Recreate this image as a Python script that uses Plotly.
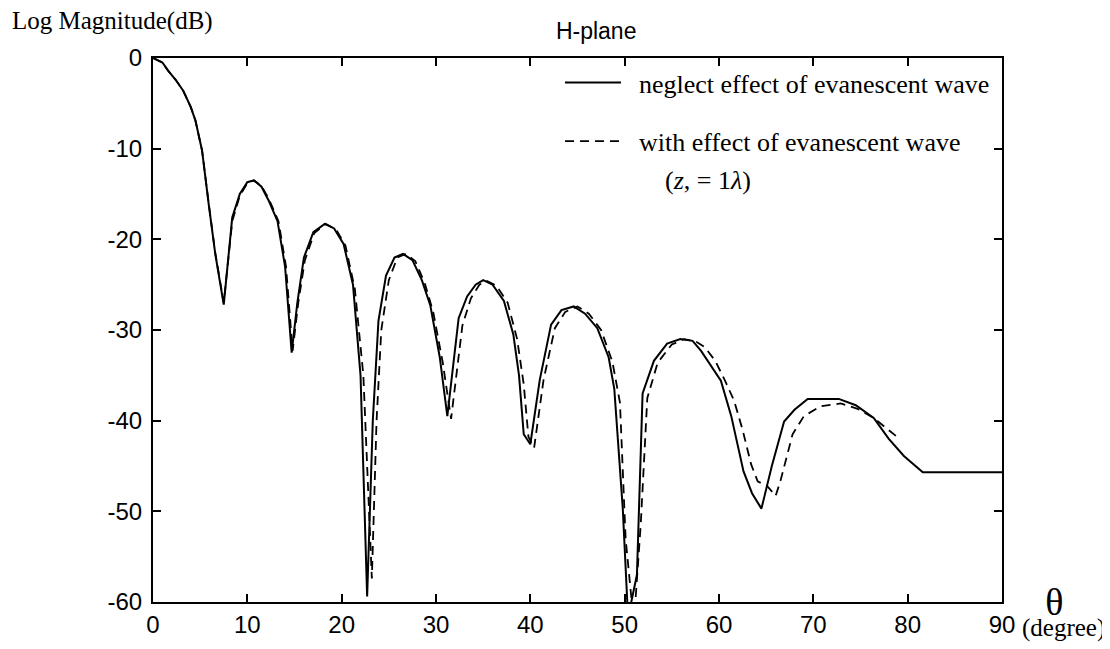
import plotly.graph_objects as go

# Solid: neglect effect of evanescent wave
theta_solid = [0, 1.0, 1.6, 2.4, 3.2, 4.0, 4.5, 5.2, 5.9, 6.6, 7.5, 8.0, 8.4, 9.2, 10.0, 10.7, 11.5,
               12.3, 13.2, 14.0, 14.7, 15.3, 16.0, 17.0, 18.2, 19.2, 20.2, 21.2, 22.0, 22.7, 23.3,
               23.9, 24.7, 25.6, 26.5, 27.5, 28.5, 29.4, 30.4, 31.2, 32.4, 33.3, 34.2, 35.0, 36.0,
               37.2, 38.2, 38.8, 39.3, 40.0, 41.0, 42.2, 43.3, 44.6, 45.8, 47.1, 48.3, 48.9, 49.5,
               49.8, 50.3, 50.6, 51.3, 51.9, 53.1, 54.5, 55.9, 57.2, 58.1, 59.2, 60.2, 61.3, 62.6,
               63.5, 64.5, 65.6, 66.9, 68.0, 69.4, 71.0, 72.7, 74.5, 76.4, 78.0, 79.6, 81.6, 90.0]
mag_solid = [0, -0.5, -1.4, -2.4, -3.6, -5.4, -6.9, -10.2, -16.1, -21.6, -27.2, -22.0, -17.6, -15.0,
             -13.7, -13.5, -14.2, -15.8, -18.0, -23.0, -32.5, -27.0, -22.0, -19.2, -18.3, -18.8,
             -20.5, -25.0, -35.0, -59.4, -40.0, -29.0, -24.0, -22.0, -21.6, -22.3, -24.5, -27.3,
             -33.0, -39.5, -28.7, -26.3, -25.0, -24.5, -25.0, -26.8, -30.5, -35.0, -41.5, -42.6,
             -35.5, -29.4, -27.8, -27.4, -28.2, -29.8, -33.0, -36.5, -45.0, -49.7, -60.5, -60.5,
             -57.0, -37.0, -33.4, -31.5, -31.0, -31.2, -32.3, -34.0, -35.6, -39.5, -45.6, -48.0,
             -49.7, -45.0, -40.1, -38.8, -37.6, -37.6, -37.6, -38.3, -39.7, -42.0, -43.9, -45.7,
             -45.7]

# Dashed: with effect of evanescent wave
theta_dash = [0, 1.0, 1.6, 2.4, 3.2, 4.0, 4.5, 5.2, 5.9, 6.6, 7.5, 8.4, 9.2, 10.0, 10.7, 11.5, 12.3,
              13.3, 14.1, 14.8, 15.4, 16.1, 17.1, 18.3, 19.4, 20.4, 21.4, 22.3, 23.2, 23.7, 24.2,
              25.0, 25.9, 26.8, 27.8, 28.8, 29.7, 30.7, 31.6, 32.8, 33.7, 34.6, 35.4, 36.4, 37.6,
              38.6, 39.3, 39.8, 40.4, 41.4, 42.6, 43.7, 45.0, 46.2, 47.5, 48.7, 49.5, 50.1, 50.8,
              51.1, 51.7, 52.4, 53.5, 55.0, 56.3, 57.6, 58.5, 59.6, 60.6, 61.6, 62.5, 63.4, 64.1,
              65.1, 66.0, 66.5, 67.8, 69.0, 70.8, 72.9, 74.7, 76.4, 78.9]
mag_dash = [0, -0.5, -1.4, -2.4, -3.6, -5.4, -6.9, -10.2, -16.0, -21.5, -27.0, -18.0, -15.2, -13.8,
            -13.5, -14.1, -15.6, -18.0, -23.0, -32.3, -27.0, -22.3, -19.3, -18.3, -18.9, -20.7,
            -25.5, -35.0, -57.4, -40.0, -30.0, -24.5, -22.0, -21.6, -22.4, -24.8, -28.0, -33.5,
            -39.8, -29.5, -26.5, -25.0, -24.6, -25.1, -27.0, -31.0, -36.0, -41.8, -43.0, -35.5,
            -29.8, -28.0, -27.4, -28.2, -30.0, -33.5, -38.0, -53.0, -60.5, -60.5, -51.5, -37.5,
            -33.6, -31.6, -31.0, -31.3, -31.9, -33.4, -35.5, -37.8, -41.0, -44.8, -46.7, -47.2,
            -48.3, -46.7, -41.5, -39.5, -38.4, -38.1, -38.7, -39.7, -41.8]

x_ticks = [0, 10, 20, 30, 40, 50, 60, 70, 80, 90]
y_ticks = [0, -10, -20, -30, -40, -50, -60]
y_tick_labels = ["0", "-10", "-20", "-30", "-40", "-50", "-60"]

serif = "Liberation Serif, Times New Roman, serif"
sans = "Liberation Sans, Arial, sans-serif"
NB = "\u00a0\u00a0"

fig = go.Figure()
fig.add_trace(go.Scatter(x=theta_solid, y=mag_solid, mode="lines",
                         name=NB + "neglect effect of evanescent wave",
                         line=dict(color="black", width=2), legendgroup="a"))
fig.add_trace(go.Scatter(x=theta_dash, y=mag_dash, mode="lines",
                         name=NB + "with effect of evanescent wave",
                         line=dict(color="black", width=1.8, dash="9px,6px"), legendgroup="b"))

axis_common = dict(showgrid=False, zeroline=False, showline=True, linecolor="black", linewidth=2,
                   mirror="ticks", ticks="inside", ticklen=8, tickwidth=1.5, tickcolor="black",
                   tickfont=dict(family=sans, size=24, color="black"))

fig.update_xaxes(range=[0, 90], tickvals=x_ticks, **axis_common)
fig.update_yaxes(range=[-60, 0], tickvals=y_ticks, ticktext=y_tick_labels,
                 ticklabelstandoff=4, **axis_common)

fig.update_layout(
    width=1102, height=641,
    margin=dict(l=145, r=108, t=50, b=47),
    paper_bgcolor="white", plot_bgcolor="white",
    title=dict(text="H-plane", x=0.522, xanchor="center", y=0.964, yanchor="middle",
               xref="paper", yref="container",
               font=dict(family=sans, size=23, color="black")),
    showlegend=True,
    legend=dict(x=0.4794, y=0.9982, xanchor="left", yanchor="top", bgcolor="rgba(0,0,0,0)",
                font=dict(family=serif, size=26, color="black"), tracegroupgap=22,
                itemwidth=56),
)

fig.add_annotation(text="Log Magnitude(dB)", xref="paper", yref="paper", x=-0.168, y=1.068,
                   xanchor="left", yanchor="middle", showarrow=False,
                   font=dict(family=serif, size=25, color="black"))
fig.add_annotation(text="(<i>z</i>, = 1<i>λ</i>)", xref="paper", yref="paper",
                   x=0.6007, y=0.774, xanchor="left", yanchor="middle", showarrow=False,
                   font=dict(family=serif, size=26, color="black"))
fig.add_annotation(text="<span style='font-size:38px'>θ</span>"
                        "<span style='font-size:25px'>\u00a0\u00a0\u00a0</span><br>"
                        "<span style='font-size:25px'>(degree)</span>",
                   xref="paper", yref="paper", x=1.0724, y=-0.0175,
                   xanchor="center", yanchor="middle", showarrow=False, align="center",
                   font=dict(family=serif, size=16, color="black"))

fig.write_html("out.html")
